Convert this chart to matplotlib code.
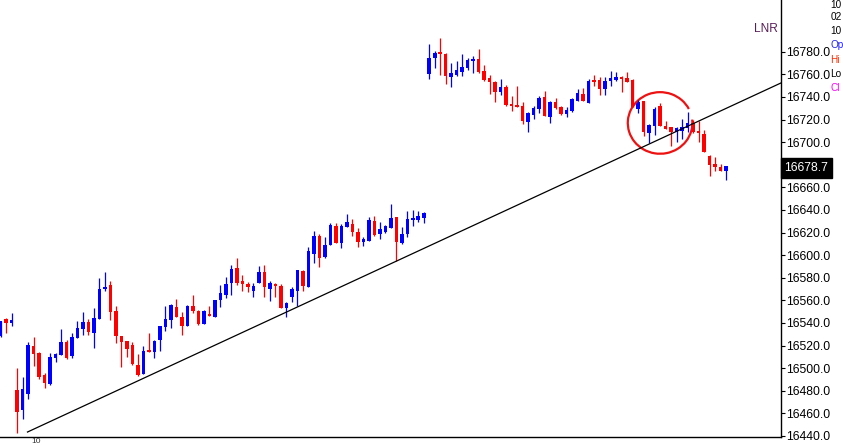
import matplotlib
matplotlib.use('Agg')
import matplotlib.pyplot as plt
from matplotlib.patches import Arc
import numpy as np

plt.rcParams['font.family'] = ['Liberation Sans', 'DejaVu Sans']

# OHLC, one entry per bar
opens = [16528.5, 16543.6, 16540.0, 16480.8, 16463.3, 16477.2, 16520.0, 16513.5, 16494.0, 16485.8,
         16509.4, 16512.0, 16523.5, 16511.1, 16527.0, 16534.7, 16540.9, 16531.5, 16543.6, 16570.1,
         16574.0, 16550.7, 16528.5, 16524.4, 16520.2, 16502.8, 16495.2, 16516.4, 16514.0, 16525.0,
         16536.7, 16542.6, 16554.2, 16545.3, 16537.3, 16555.0, 16550.9, 16539.1, 16548.0, 16545.6,
         16560.6, 16565.1, 16575.1, 16588.4, 16577.2, 16574.5, 16568.3, 16575.1, 16585.4, 16570.1,
         16574.5, 16572.8, 16553.6, 16563.3, 16568.6, 16586.1, 16572.2, 16601.1, 16617.0, 16598.7,
         16609.0, 16625.9, 16610.5, 16625.3, 16627.6, 16620.9, 16611.4, 16612.9, 16630.6, 16618.5,
         16620.8, 16624.4, 16633.5, 16610.5, 16618.5, 16631.2, 16631.2, 16632.6, 16760.1, 16774.8,
         16779.8, 16778.1, 16758.0, 16759.5, 16761.8, 16766.0, 16771.9, 16773.6, 16763.3, 16757.1,
         16753.6, 16744.7, 16749.2, 16733.8, 16732.9, 16732.0, 16718.2, 16724.1, 16729.4, 16739.7,
         16722.6, 16735.6, 16731.2, 16724.7, 16727.9, 16736.8, 16742.7, 16734.4, 16755.1, 16755.1,
         16746.8, 16754.5, 16755.1, 16758.0, 16757.2, 16755.1, 16729.4, 16736.5, 16708.5, 16714.4,
         16732.1, 16714.4, 16713.2, 16709.4, 16710.3, 16712.3, 16717.3, 16710.3, 16707.3, 16688.1,
         16680.8, 16677.8, 16674.5]
highs = [16542.0, 16544.2, 16549.2, 16500.5, 16492.3, 16523.5, 16527.7, 16514.4, 16496.1, 16513.2,
         16513.2, 16534.7, 16525.0, 16531.5, 16541.8, 16549.5, 16543.9, 16553.6, 16580.2, 16585.2,
         16577.5, 16555.1, 16528.5, 16524.4, 16523.5, 16512.3, 16519.9, 16531.4, 16525.0, 16537.6,
         16555.3, 16556.8, 16561.2, 16549.4, 16555.9, 16564.8, 16551.2, 16551.2, 16555.0, 16560.3,
         16573.9, 16580.4, 16591.3, 16597.2, 16582.5, 16576.6, 16575.7, 16590.5, 16591.3, 16577.2,
         16575.1, 16574.2, 16558.3, 16571.6, 16586.9, 16586.6, 16607.6, 16621.4, 16618.8, 16615.8,
         16628.8, 16628.2, 16627.3, 16636.5, 16632.1, 16624.4, 16615.8, 16633.5, 16635.0, 16629.1,
         16626.7, 16645.3, 16633.5, 16625.3, 16639.1, 16640.0, 16639.1, 16638.5, 16786.9, 16780.7,
         16792.5, 16778.7, 16770.4, 16771.9, 16778.1, 16774.2, 16776.3, 16782.5, 16768.3, 16759.5,
         16754.2, 16755.9, 16750.6, 16741.2, 16750.0, 16735.9, 16727.0, 16732.0, 16740.9, 16745.3,
         16736.5, 16739.4, 16732.0, 16730.9, 16738.8, 16746.8, 16748.3, 16755.7, 16759.5, 16758.0,
         16758.0, 16763.0, 16762.5, 16758.6, 16762.5, 16755.7, 16737.4, 16736.8, 16716.2, 16731.5,
         16735.0, 16719.1, 16713.2, 16713.8, 16720.6, 16726.5, 16719.7, 16718.8, 16710.8, 16688.7,
         16686.7, 16680.8, 16678.7]
lows = [16528.0, 16531.2, 16537.4, 16442.4, 16455.1, 16472.5, 16502.0, 16490.5, 16482.8, 16485.2,
        16505.5, 16512.0, 16508.2, 16508.8, 16527.0, 16529.4, 16529.4, 16517.9, 16543.6, 16568.4,
        16542.7, 16522.0, 16501.1, 16510.2, 16502.5, 16493.1, 16495.2, 16514.6, 16508.7, 16515.5,
        16533.2, 16535.3, 16545.3, 16529.4, 16537.3, 16548.9, 16538.2, 16539.1, 16546.5, 16545.6,
        16554.4, 16561.8, 16564.8, 16573.6, 16568.3, 16567.7, 16563.3, 16575.1, 16563.3, 16559.5,
        16563.3, 16553.0, 16545.6, 16558.9, 16555.1, 16568.3, 16571.6, 16592.8, 16589.9, 16597.2,
        16609.0, 16610.5, 16606.7, 16625.3, 16617.3, 16607.6, 16608.5, 16612.9, 16617.3, 16614.3,
        16619.9, 16624.4, 16594.9, 16609.6, 16616.4, 16626.1, 16629.1, 16628.2, 16755.6, 16766.0,
        16759.5, 16751.5, 16749.2, 16758.6, 16758.6, 16763.9, 16761.0, 16761.5, 16754.2, 16742.7,
        16735.9, 16741.8, 16732.3, 16727.6, 16731.5, 16716.1, 16709.3, 16720.2, 16726.1, 16723.2,
        16717.3, 16729.1, 16724.1, 16722.6, 16727.0, 16736.8, 16736.8, 16734.4, 16749.8, 16741.8,
        16741.8, 16749.8, 16754.5, 16744.2, 16753.0, 16731.5, 16725.6, 16705.5, 16699.1, 16706.4,
        16714.4, 16711.7, 16696.7, 16700.5, 16702.9, 16709.4, 16708.5, 16700.5, 16691.1, 16670.4,
        16674.9, 16674.5, 16666.6]
closes = [16541.8, 16540.0, 16542.7, 16461.6, 16481.6, 16520.6, 16512.9, 16492.3, 16487.2, 16510.0,
          16512.6, 16523.5, 16509.1, 16527.7, 16535.6, 16540.9, 16532.4, 16544.5, 16570.1, 16572.2,
          16550.1, 16528.5, 16523.5, 16516.7, 16503.4, 16494.0, 16515.5, 16514.6, 16524.4, 16537.3,
          16543.5, 16556.2, 16545.3, 16537.6, 16555.3, 16550.6, 16539.1, 16550.6, 16546.5, 16560.3,
          16566.8, 16574.2, 16587.8, 16575.1, 16574.5, 16571.6, 16572.7, 16585.4, 16572.2, 16575.7,
          16573.1, 16553.0, 16557.4, 16570.1, 16586.9, 16573.1, 16603.7, 16617.0, 16597.2, 16609.0,
          16626.8, 16610.5, 16625.9, 16629.7, 16620.9, 16611.4, 16614.4, 16631.2, 16617.9, 16623.2,
          16625.8, 16632.6, 16611.4, 16618.8, 16632.1, 16633.2, 16634.7, 16637.6, 16774.8, 16779.2,
          16778.4, 16758.9, 16761.5, 16763.9, 16766.9, 16772.8, 16773.6, 16761.8, 16755.0, 16753.6,
          16744.7, 16749.2, 16732.9, 16732.3, 16731.5, 16719.1, 16725.5, 16730.0, 16738.8, 16723.5,
          16735.6, 16730.6, 16724.7, 16728.5, 16737.9, 16743.8, 16736.8, 16754.5, 16753.6, 16746.8,
          16754.2, 16756.6, 16758.0, 16755.7, 16753.6, 16731.5, 16735.9, 16709.4, 16715.3, 16729.4,
          16714.4, 16711.7, 16708.8, 16712.3, 16713.2, 16717.3, 16709.4, 16708.5, 16691.1, 16679.9,
          16678.4, 16674.9, 16678.7]

last_price = 16678.7
y_ticks = [16440, 16460, 16480, 16500, 16520, 16540, 16560, 16580, 16600, 16620,
           16640, 16660, 16700, 16720, 16740, 16760, 16780]

# hand drawn trend line (bar index, price)
trend_x = [4.9, 142.0]
trend_y = [16443.5, 16752.4]

fig = plt.figure(figsize=(8.43, 4.45), dpi=100)
ax = fig.add_axes([0.0, 8 / 445, 781 / 843, 437 / 445])

x = np.arange(len(opens))
o = np.array(opens)
c = np.array(closes)
colors = np.where(c >= o, '#0000ff', '#ff0000')

ax.vlines(x, lows, highs, colors=colors, linewidth=0.9)
body_h = np.maximum(np.abs(c - o), 0.9)
ax.bar(x, body_h, bottom=np.minimum(o, c), width=0.64, color=colors, linewidth=0)

ax.plot(trend_x, trend_y, color='black', linewidth=0.9)

# red freehand circle
ax.add_patch(Arc((120.0, 16717.0), 11.75, 54.5, theta1=67, theta2=387,
                 color='#ee1111', linewidth=1.6))

ax.set_xlim(-0.1, 142.0)
ax.set_ylim(16439.1, 16825.8)

for s in ['top', 'left']:
    ax.spines[s].set_visible(False)
ax.spines['right'].set_linewidth(1.0)
ax.spines['bottom'].set_linewidth(1.0)

ax.set_xticks([])
ax.yaxis.tick_right()
ax.set_yticks(y_ticks)
ax.set_yticklabels(['%.1f' % v for v in y_ticks])
ax.tick_params(axis='y', length=3, width=0.8, pad=0.4, labelsize=8.8, colors='black')

ax.annotate('%.1f' % last_price, xy=(1.0, last_price),
            xycoords=('axes fraction', 'data'), xytext=(2.5, -1.5),
            textcoords='offset points', va='center', ha='left',
            fontsize=8.8, color='white',
            bbox=dict(boxstyle='square,pad=0.32', fc='black', ec='black'))

ax.text(0.996, 0.934, 'LNR', transform=ax.transAxes, ha='right', va='center',
        fontsize=8.6, color='#5a1e5a')

# cut-off data window in the top right corner
win = [('10', 'black', 5), ('02', 'black', 17), ('10', 'black', 31),
       ('Op', '#2020ff', 45), ('Hi', '#ff2a00', 60), ('Lo', 'black', 74),
       ('Cl', '#ff00ff', 88)]
for txt, col, py in win:
    fig.text(830.5 / 843, 1 - py / 445, txt, ha='left', va='center',
             fontsize=7.2, color=col)

fig.text(31 / 843, 0.0, '10', ha='left', va='bottom', fontsize=6, color='#333333')

fig.savefig('out.png', dpi=100)
